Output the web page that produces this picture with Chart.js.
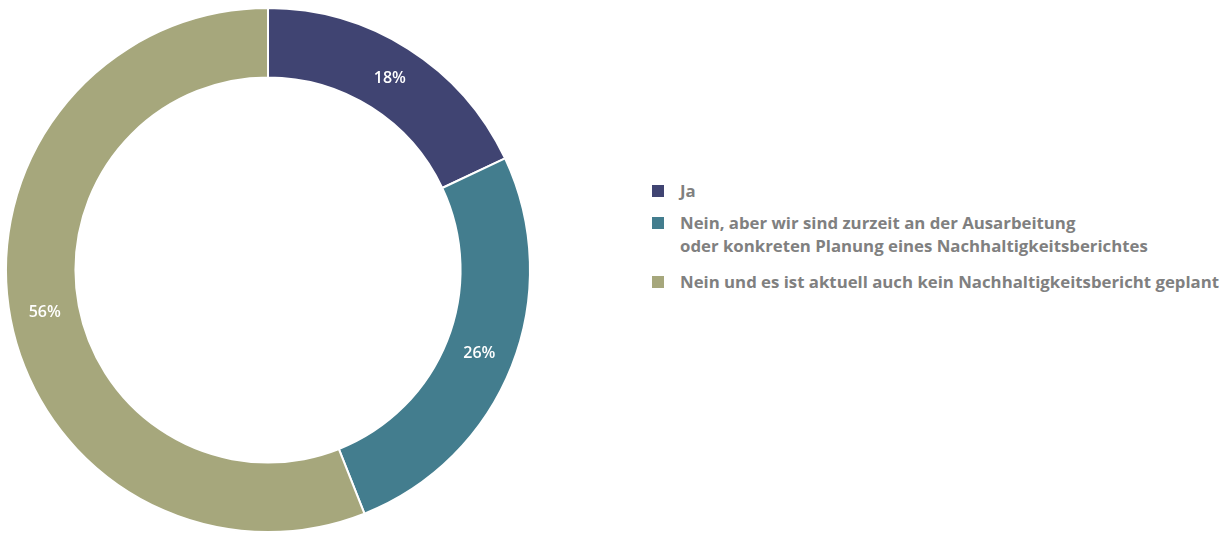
<!DOCTYPE html>
<html lang="de">
<head>
<meta charset="utf-8">
<title>Nachhaltigkeitsbericht</title>
<script src="https://cdn.jsdelivr.net/npm/chart.js@4/dist/chart.umd.min.js"></script>
<style>
  html, body { margin: 0; padding: 0; background: #fff; }
  .wrap { position: relative; width: 1227px; height: 533px; }
  .donut { position: absolute; left: 0; top: 0; width: 536px; height: 533px; }
  .legend {
    position: absolute; left: 652px; top: 179px; white-space: nowrap;
    font-family: 'Open Sans', sans-serif; font-weight: 700; font-size: 16.8px;
    color: #808080; line-height: 23px;
  }
  .legend-item { display: flex; align-items: flex-start; margin-bottom: 9px; }
  .legend-item:nth-child(2) { margin-bottom: 13px; }
  .legend-box { width: 12px; height: 12px; flex: none; margin-top: 6px; margin-right: 16px; }
</style>
</head>
<body>
<div class="wrap">
  <div class="donut"><canvas id="chart"></canvas></div>
  <div class="legend" id="legend"></div>
</div>
<script>
const LABELS = [
  'Ja',
  'Nein, aber wir sind zurzeit an der Ausarbeitung\noder konkreten Planung eines Nachhaltigkeitsberichtes',
  'Nein und es ist aktuell auch kein Nachhaltigkeitsbericht geplant',
];
const VALUES = [18, 26, 56];
const COLORS = ['#404472', '#437d8e', '#a6a77c'];

// legend on the right, one box per category
const legendEl = document.getElementById('legend');
LABELS.forEach((label, i) => {
  const item = document.createElement('div');
  item.className = 'legend-item';
  const box = document.createElement('span');
  box.className = 'legend-box';
  box.style.background = COLORS[i];
  const text = document.createElement('span');
  text.innerHTML = label.split('\n').join('<br>');
  item.appendChild(box);
  item.appendChild(text);
  legendEl.appendChild(item);
});

// percent labels centred on each ring segment
const sliceLabels = {
  id: 'sliceLabels',
  afterDatasetsDraw(chart) {
    const { ctx } = chart;
    const meta = chart.getDatasetMeta(0);
    ctx.save();
    ctx.font = "600 16px 'Open Sans', sans-serif";
    ctx.fillStyle = '#ffffff';
    ctx.textAlign = 'center';
    ctx.textBaseline = 'middle';
    meta.data.forEach((arc, i) => {
      const p = arc.tooltipPosition();
      ctx.fillText(VALUES[i] + '%', p.x, p.y);
    });
    ctx.restore();
  },
};

new Chart(document.getElementById('chart'), {
  type: 'doughnut',
  data: {
    labels: LABELS,
    datasets: [{
      data: VALUES,
      backgroundColor: COLORS,
      borderColor: '#ffffff',
      borderWidth: 2,
    }],
  },
  options: {
    responsive: true,
    maintainAspectRatio: false,
    animation: false,
    cutout: '73.5%',
    layout: { padding: { top: 7, bottom: 0, left: 5, right: 5 } },
    plugins: {
      legend: { display: false },
      tooltip: { enabled: false },
    },
  },
  plugins: [sliceLabels],
});
</script>
</body>
</html>
